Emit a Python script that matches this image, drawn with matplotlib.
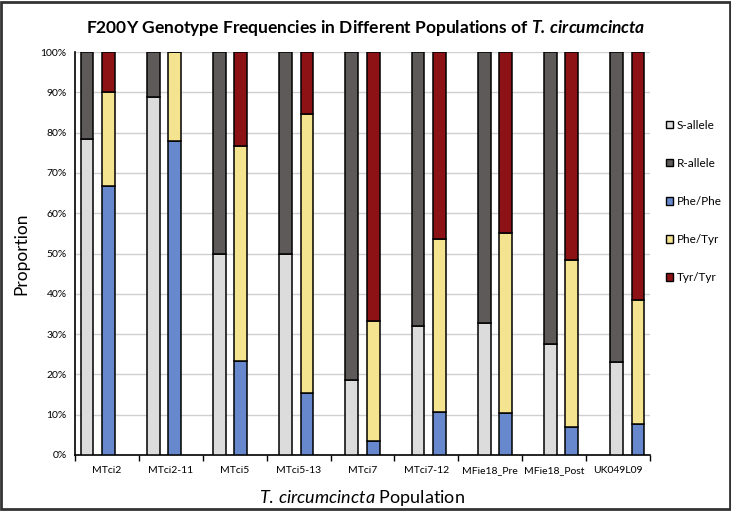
import matplotlib.pyplot as plt
import numpy as np
from matplotlib.patches import Patch, Rectangle

plt.rcParams.update({'font.family': 'Lato', 'mathtext.fontset': 'custom',
                     'mathtext.it': 'Lato:italic', 'mathtext.rm': 'Lato',
                     'mathtext.bf': 'Lato:italic:bold'})

populations = ['MTci2', 'MTci2-11', 'MTci5', 'MTci5-13', 'MTci7',
               'MTci7-12', 'MFie18_Pre', 'MFie18_Post', 'UK049L09']
s_allele = [0.785, 0.889, 0.50, 0.50, 0.185, 0.32, 0.327, 0.275, 0.23]
r_allele = [1 - v for v in s_allele]
phe_phe = [0.667, 0.778, 0.233, 0.154, 0.035, 0.107, 0.103, 0.069, 0.077]
phe_tyr = [0.233, 0.222, 0.534, 0.692, 0.298, 0.429, 0.449, 0.414, 0.308]
tyr_tyr = [0.10, 0.0, 0.233, 0.154, 0.667, 0.464, 0.448, 0.517, 0.615]

colors = {'S-allele': '#DCDCDC', 'R-allele': '#5E5A59', 'Phe/Phe': '#6788CC',
          'Phe/Tyr': '#F4E38F', 'Tyr/Tyr': '#8C1216'}

fig = plt.figure(figsize=(7.31, 5.11), dpi=100)
ax = fig.add_axes([0.1026, 0.1096, 0.7866, 0.7886])

x = np.arange(len(populations))
# Excel drew the bar clusters on a slightly wider pitch than the labels
geno_x = 0.024 + 1.036 * x
allele_x = geno_x - 0.336
w = 0.2
kw = dict(width=w, edgecolor='black', linewidth=1.1, zorder=3)

ax.bar(allele_x, s_allele, color=colors['S-allele'], **kw)
ax.bar(allele_x, r_allele, bottom=s_allele, color=colors['R-allele'], **kw)
ax.bar(geno_x, phe_phe, color=colors['Phe/Phe'], **kw)
ax.bar(geno_x, phe_tyr, bottom=phe_phe, color=colors['Phe/Tyr'], **kw)
ax.bar(geno_x, tyr_tyr, bottom=np.add(phe_phe, phe_tyr), color=colors['Tyr/Tyr'], **kw)

ax.set_xlim(-0.5, 8.5)
ax.set_ylim(0, 1)
ax.set_yticks(np.arange(0, 1.01, 0.1))
ax.set_yticklabels([f'{int(round(v * 100))}%' for v in np.arange(0, 1.01, 0.1)], fontsize=7.5)
ax.set_xticks(x)
ax.set_xticklabels(populations, fontsize=7.5)
ax.set_xticks(np.arange(-0.5, 8.6, 1), minor=True)
ax.tick_params(axis='x', which='major', length=0, pad=8)
ax.tick_params(axis='x', which='minor', length=4, width=1, direction='out')
ax.tick_params(axis='y', length=0, pad=6)
ax.grid(axis='y', color='#D0D0D0', linewidth=1, zorder=0)
for s in ['top', 'right']:
    ax.spines[s].set_visible(False)
for s in ['left', 'bottom']:
    ax.spines[s].set_linewidth(1.2)

ax.set_ylabel('Proportion', fontsize=12.5, labelpad=8)
ax.set_xlabel(r'$\mathit{T.\,circumcincta}$ Population', fontsize=13, labelpad=9)
fig.suptitle(r'F200Y Genotype Frequencies in Different Populations of $\mathbf{T.\,circumcincta}$',
             fontsize=12.5, fontweight='bold', y=0.965)

handles = [Patch(facecolor=c, edgecolor='black', linewidth=1) for c in colors.values()]
fig.legend(handles, list(colors.keys()), loc='upper left', bbox_to_anchor=(0.905, 0.775),
           frameon=False, fontsize=8.5, handlelength=0.6, handleheight=0.6,
           handletextpad=0.3, labelspacing=2.3, borderaxespad=0)

fig.patches.append(Rectangle((0.002, 0.003), 0.996, 0.994, transform=fig.transFigure,
                             fill=False, edgecolor='#333333', linewidth=2))

plt.savefig('out.png', dpi=100)
plt.close()
